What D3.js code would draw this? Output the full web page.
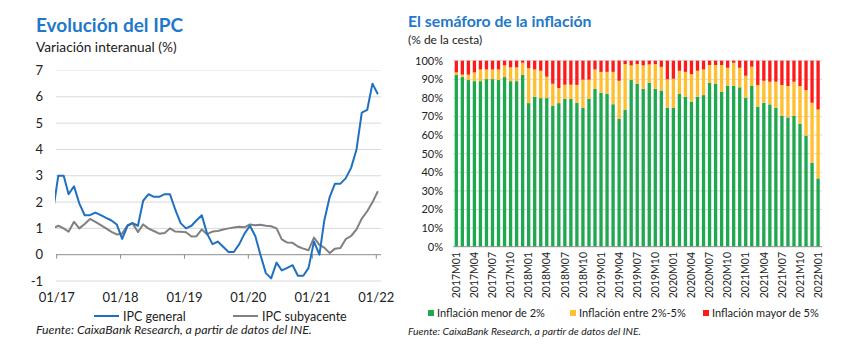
<!DOCTYPE html>
<html><head><meta charset="utf-8">
<script src="https://cdn.jsdelivr.net/npm/d3@7"></script>
<style>
body{margin:0;background:#fff;}
svg{display:block;font-family:Lato,"Open Sans",sans-serif;}
</style></head><body>
<svg id="c" width="855" height="356"></svg>
<script>
// ---------- Left chart data (annual % change), Dec 2016 .. Jan 2022 ----------
const ipcMonths = ["2016-12",
 "2017-01","2017-02","2017-03","2017-04","2017-05","2017-06","2017-07","2017-08","2017-09","2017-10","2017-11","2017-12",
 "2018-01","2018-02","2018-03","2018-04","2018-05","2018-06","2018-07","2018-08","2018-09","2018-10","2018-11","2018-12",
 "2019-01","2019-02","2019-03","2019-04","2019-05","2019-06","2019-07","2019-08","2019-09","2019-10","2019-11","2019-12",
 "2020-01","2020-02","2020-03","2020-04","2020-05","2020-06","2020-07","2020-08","2020-09","2020-10","2020-11","2020-12",
 "2021-01","2021-02","2021-03","2021-04","2021-05","2021-06","2021-07","2021-08","2021-09","2021-10","2021-11","2021-12",
 "2022-01"];
const ipcGeneral = [1.6,
 3.0,3.0,2.3,2.6,1.95,1.5,1.5,1.6,1.5,1.4,1.3,1.15,
 0.6,1.1,1.2,1.1,2.05,2.3,2.2,2.2,2.3,2.3,1.7,1.2,
 1.0,1.1,1.3,1.5,0.8,0.4,0.5,0.3,0.1,0.1,0.4,0.8,
 1.1,0.7,0.0,-0.7,-0.9,-0.3,-0.6,-0.5,-0.4,-0.8,-0.8,-0.5,
 0.5,0.0,1.3,2.2,2.7,2.7,2.9,3.3,4.0,5.4,5.5,6.5,
 6.1];
const ipcSubyacente = [1.0,
 1.1,1.0,0.87,1.25,1.0,1.17,1.36,1.25,1.12,1.0,0.87,0.77,
 0.8,1.12,1.2,0.86,1.15,0.99,0.9,0.8,0.82,1.0,0.88,0.87,
 0.85,0.69,0.7,0.96,0.78,0.88,0.9,0.96,1.0,1.03,1.06,1.04,
 1.15,1.12,1.14,1.1,1.08,1.0,0.58,0.46,0.45,0.31,0.23,0.17,
 0.65,0.37,0.27,0.06,0.23,0.25,0.59,0.71,0.96,1.37,1.65,1.99,
 2.41];
const leftYTicks = [-1,0,1,2,3,4,5,6,7];
const leftXTicks = ["2017-01","2018-01","2019-01","2020-01","2021-01","2022-01"];
const leftXTickLabels = ["01/17","01/18","01/19","01/20","01/21","01/22"];

// ---------- Right chart data (% of basket) 2017M01 .. 2022M01 ----------
const barYears = [2017,2018,2019,2020,2021,2022];
const barCategories = [];
barYears.forEach(y => { for (let m = 1; m <= 12; m++) { if (y === 2022 && m > 1) break; barCategories.push(y + "M" + String(m).padStart(2,"0")); } });
const menor2 = [92.3,91.2,89.6,89.0,89.0,90.1,90.1,89.6,91.2,89.0,89.0,92.3,
 77.2,80.6,79.9,79.9,75.8,77.2,79.4,79.4,77.3,74.6,79.5,84.9,
 82.8,82.2,76.6,68.8,73.6,89.6,87.5,84.9,88.2,84.9,84.0,74.7,
 74.6,82.1,80.6,78.0,80.6,81.5,88.2,87.5,83.3,86.4,86.4,85.7,
 80.1,86.4,75.3,77.4,76.5,74.7,70.3,69.5,70.3,66.0,59.7,45.2,
 36.7];
const entre2y5 = [1.4,1.3,2.9,4.7,6.3,5.2,5.2,5.7,6.3,7.4,7.4,6.6,
 18.8,14.7,14.7,11.5,11.8,8.1,7.7,7.7,9.7,15.2,10.3,10.4,
 11.2,11.8,17.4,20.4,24.6,7.9,10.7,12.6,9.8,13.3,12.7,15.3,
 15.7,12.5,13.4,14.7,14.0,13.8,9.5,10.2,14.4,9.8,12.5,10.5,
 11.8,10.4,11.6,11.8,12.2,14.0,16.6,16.9,18.4,20.4,24.5,32.2,
 37.1];
const mayor5 = menor2.map((g,i) => +(100 - g - entre2y5[i]).toFixed(1));
const barTickCategories = barCategories.filter((c,i) => i % 3 === 0);
const rightYTicks = [0,10,20,30,40,50,60,70,80,90,100];

const seriesNames = ["Inflación menor de 2%","Inflación entre 2%-5%","Inflación mayor de 5%"];
const seriesColors = ["#1fa84f","#ffbf2e","#ff1a1a"];

const svg = d3.select("#c");
const titleBlue = "#1f78c8";

// ================= LEFT CHART =================
const parse = d3.timeParse("%Y-%m");
const pointDate = s => { const d = parse(s); d.setDate(10); return d; };
const xL = d3.scaleTime().domain([parse("2017-01"), parse("2022-01")]).range([56.7, 376.3]);
const yL = d3.scaleLinear().domain([-1,7]).range([281, 70.5]);

svg.append("text").attr("x",36).attr("y",32).attr("fill",titleBlue)
  .attr("font-weight","bold").attr("font-size",19).text("Evolución del IPC");
svg.append("text").attr("x",36).attr("y",52).attr("fill","#1a1a1a")
  .attr("font-size",13.7).text("Variación interanual (%)");

const gL = svg.append("g");
gL.selectAll("line.grid").data(leftYTicks.filter(t => t !== 0)).join("line")
  .attr("x1",56).attr("x2",381).attr("y1",d=>yL(d)).attr("y2",d=>yL(d))
  .attr("stroke", d => d === 7 ? "#efefef" : "#d9d9d9").attr("stroke-width",1);
gL.selectAll("text.yl").data(leftYTicks).join("text")
  .attr("x",43).attr("y",d=>yL(d)).attr("dy","0.35em").attr("text-anchor","end")
  .attr("font-size",13).attr("fill","#222").text(d=>d);
// x axis at 0
gL.append("line").attr("x1",56).attr("x2",381).attr("y1",yL(0)).attr("y2",yL(0))
  .attr("stroke","#8c8c8c").attr("stroke-width",1);
gL.selectAll("line.tk").data(leftXTicks).join("line")
  .attr("x1",d=>xL(parse(d))).attr("x2",d=>xL(parse(d)))
  .attr("y1",yL(0)).attr("y2",yL(0)+4).attr("stroke","#8c8c8c");
gL.selectAll("text.xl").data(leftXTicks).join("text")
  .attr("x",d=>xL(parse(d))).attr("y",302).attr("text-anchor","middle")
  .attr("font-size",13).attr("fill","#222").text((d,i)=>leftXTickLabels[i]);

svg.append("clipPath").attr("id","clipL").append("rect")
  .attr("x",55).attr("y",60).attr("width",328).attr("height",230);
const lineL = d3.line().x((d,i)=>xL(pointDate(ipcMonths[i]))).y(d=>yL(d));
gL.append("path").datum(ipcSubyacente).attr("d",lineL).attr("clip-path","url(#clipL)")
  .attr("fill","none").attr("stroke","#808080").attr("stroke-width",2).attr("stroke-linejoin","round");
gL.append("path").datum(ipcGeneral).attr("d",lineL).attr("clip-path","url(#clipL)")
  .attr("fill","none").attr("stroke","#1f70c1").attr("stroke-width",2).attr("stroke-linejoin","round");

// legend
const legL = [{n:"IPC general",c:"#1f70c1",x:94},{n:"IPC subyacente",c:"#808080",x:233}];
legL.forEach(l => {
  svg.append("line").attr("x1",l.x).attr("x2",l.x+25).attr("y1",316).attr("y2",316)
    .attr("stroke",l.c).attr("stroke-width",2);
  svg.append("text").attr("x",l.x+29).attr("y",320.5).attr("font-size",12.5).attr("fill","#222").text(l.n);
});
svg.append("text").attr("x",36).attr("y",334).attr("font-size",12.3).attr("font-style","italic")
  .attr("fill","#222").text("Fuente: CaixaBank Research, a partir de datos del INE.");

// ================= RIGHT CHART =================
const xR = d3.scaleBand().domain(barCategories).range([453.3, 821.1]).paddingInner(0.45).paddingOuter(0.225);
const yR = d3.scaleLinear().domain([0,100]).range([246.7, 60.7]);

svg.append("text").attr("x",408).attr("y",27).attr("fill",titleBlue)
  .attr("font-weight","bold").attr("font-size",15.8).text("El semáforo de la inflación");
svg.append("text").attr("x",408).attr("y",44).attr("fill","#1a1a1a")
  .attr("font-size",12).text("(% de la cesta)");

const gR = svg.append("g");
gR.selectAll("line.grid").data(rightYTicks.filter(t=>t!==0)).join("line")
  .attr("x1",453).attr("x2",822).attr("y1",d=>yR(d)).attr("y2",d=>yR(d))
  .attr("stroke","#d9d9d9").attr("stroke-width",1);
gR.selectAll("text.yl").data(rightYTicks).join("text")
  .attr("x",443).attr("y",d=>yR(d)).attr("dy","0.35em").attr("text-anchor","end")
  .attr("font-size",11).attr("fill","#222").text(d=>d+"%");

const stackData = barCategories.map((c,i)=>({cat:c, a:menor2[i], b:entre2y5[i], c2:mayor5[i]}));
const stack = d3.stack().keys(["a","b","c2"])(stackData);
gR.selectAll("g.s").data(stack).join("g").attr("fill",(d,i)=>seriesColors[i])
  .selectAll("rect").data(d=>d).join("rect")
  .attr("x",d=>xR(d.data.cat)).attr("width",xR.bandwidth())
  .attr("y",d=>yR(d[1])).attr("height",d=>yR(d[0])-yR(d[1]));

gR.append("line").attr("x1",453).attr("x2",822).attr("y1",yR(0)).attr("y2",yR(0))
  .attr("stroke","#8c8c8c");
gR.selectAll("text.xl").data(barTickCategories).join("text")
  .attr("transform",d=>`translate(${xR(d)+xR.bandwidth()/2},252) rotate(-90)`)
  .attr("dy","0.35em").attr("text-anchor","end").attr("font-size",10.5).attr("fill","#222").text(d=>d);

const legR = [428,570,703];
seriesNames.forEach((n,i)=>{
  svg.append("rect").attr("x",legR[i]).attr("y",310).attr("width",6).attr("height",6).attr("fill",seriesColors[i]);
  svg.append("text").attr("x",legR[i]+9).attr("y",317).attr("font-size",11).attr("fill","#222").text(n);
});
svg.append("text").attr("x",408).attr("y",335).attr("font-size",10.4).attr("font-style","italic")
  .attr("fill","#222").text("Fuente: CaixaBank Research, a partir de datos del INE.");
</script></body></html>
